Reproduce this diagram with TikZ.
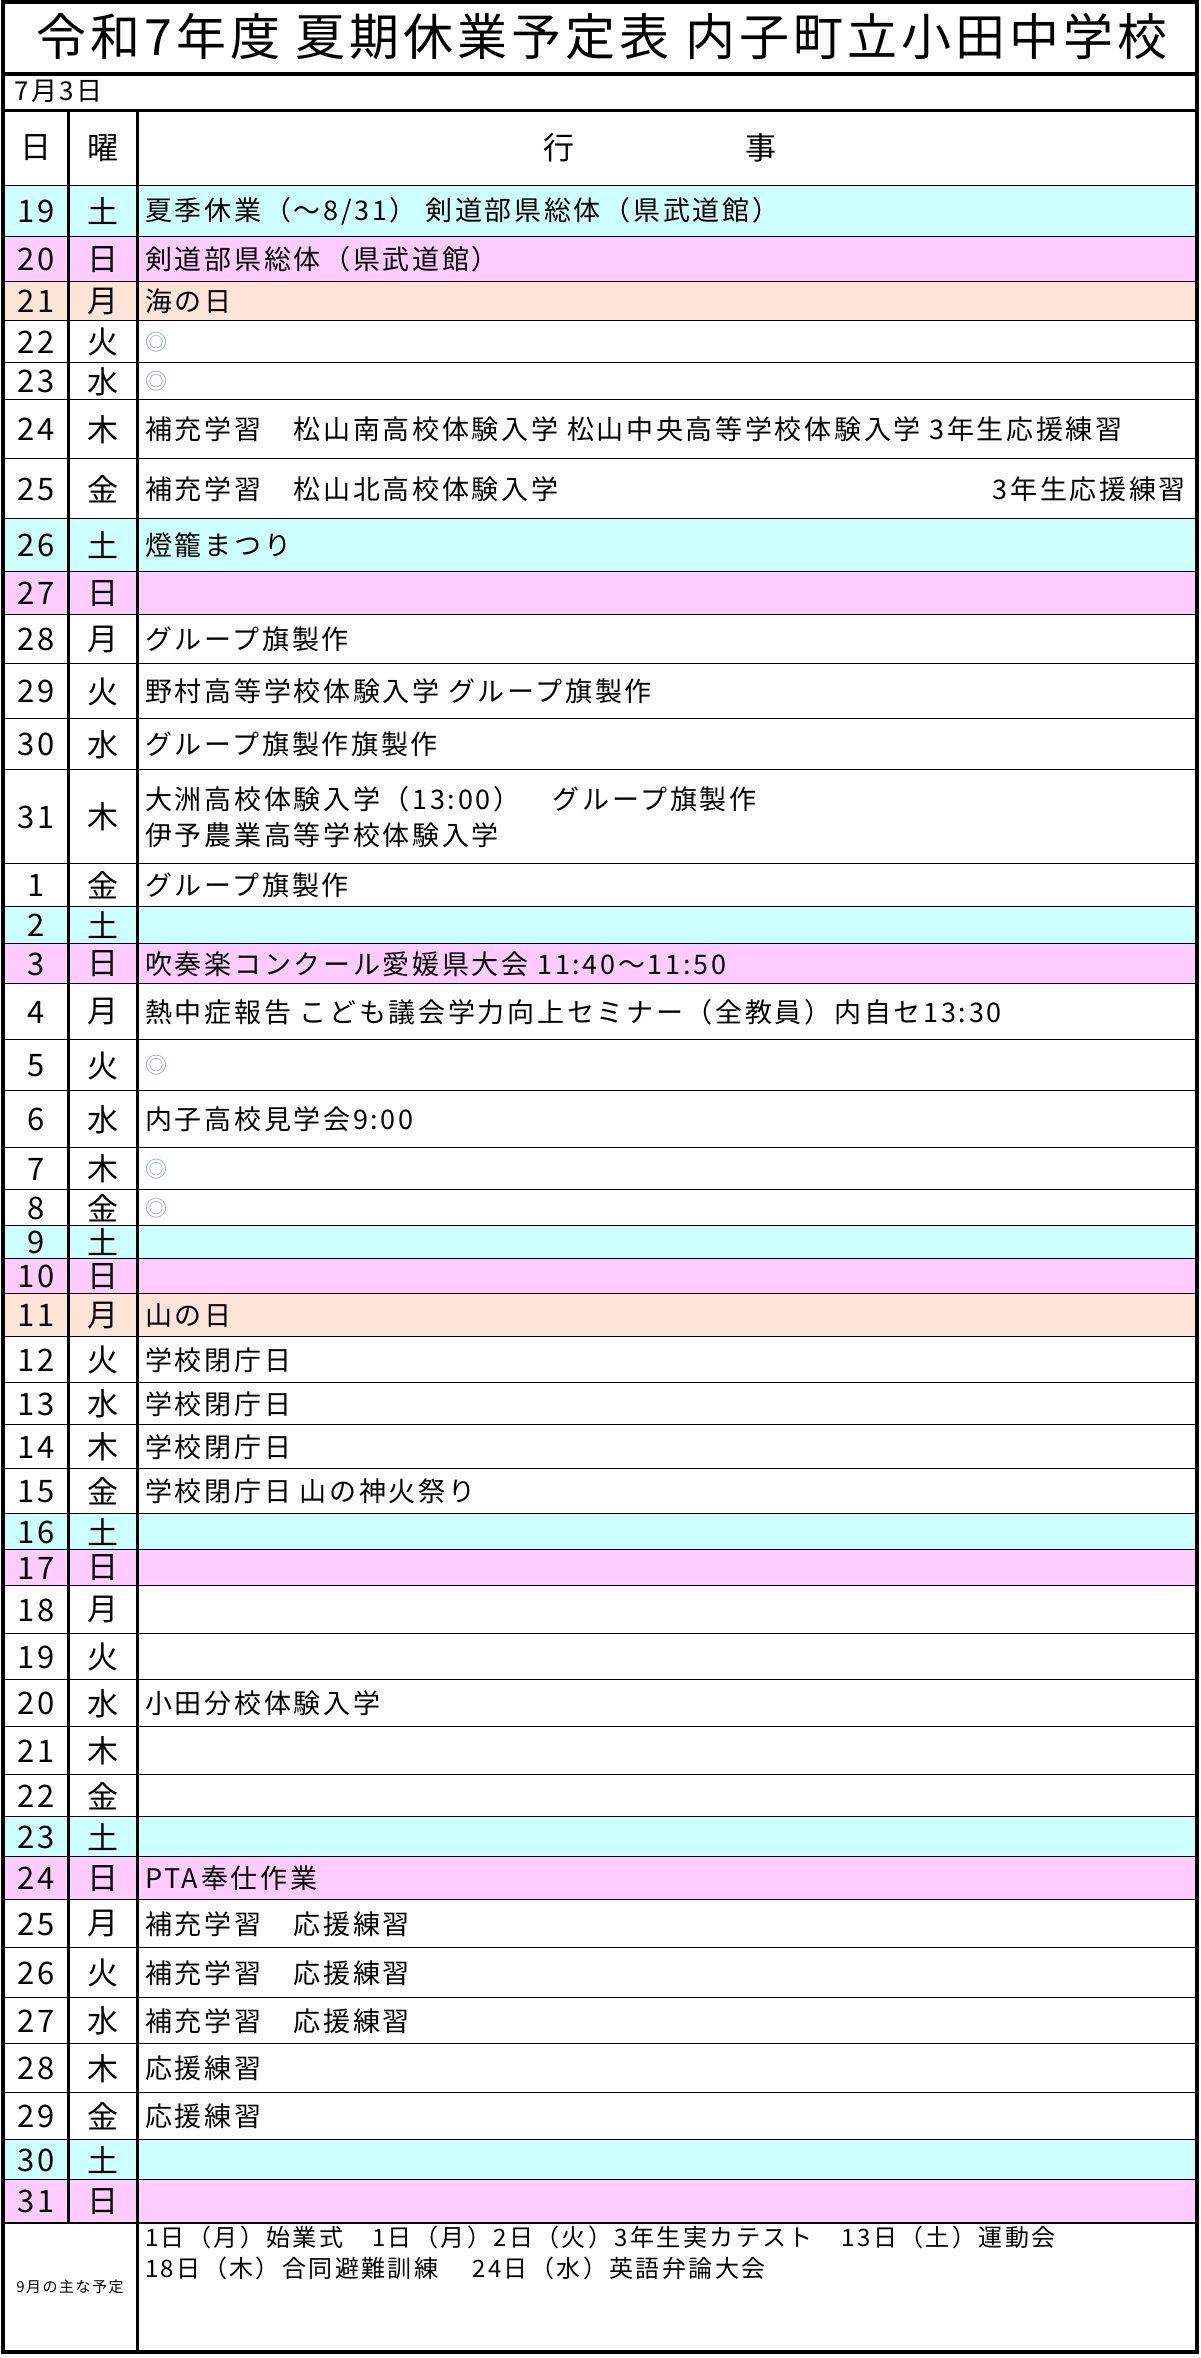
\documentclass[tikz,border=0pt]{standalone}
\usepackage{fontspec}
\setmainfont{Noto Sans CJK JP}[LetterSpace=10]
\newfontfamily\jpt{Noto Sans CJK JP}[LetterSpace=8]
\definecolor{sat}{HTML}{CCFFFF}
\definecolor{sun}{HTML}{FFCCFF}
\definecolor{hol}{HTML}{FCE4D6}
\definecolor{ring}{HTML}{9AA8C8}
\tikzset{grid/.style={line width=2.5pt,black},
 num/.style={font=\fontsize{31}{31}\selectfont,inner sep=0pt},
 txt/.style={font=\fontsize{27}{36}\selectfont,anchor=west,inner sep=0pt,align=left}}
\newcommand\calrow[6]{%
 \fill[#5] (3,#1) rectangle (1197,#2);
 \draw[grid] (3,#2) -- (1197,#2);
 \node[num] (d#1) at (36,{(#1+#2)/2}) {#3};
 \node[num] (w#1) at (103,{(#1+#2)/2}) {#4};
 \node[txt] (t#1) at (145,{(#1+#2)/2}) {#6};}
\newcommand\ring{{\color{ring}\fontsize{22}{22}\selectfont ◎}}
\begin{document}
\begin{tikzpicture}[x=1pt,y=-1pt]
\useasboundingbox (0,0) rectangle (1200,2358);
\fill[white] (0,0) rectangle (1200,2358);
\node[font=\jpt\fontsize{50}{54}\selectfont,inner sep=0pt] (title) at (602,37) {令和7年度 夏期休業予定表 内子町立小田中学校};
\draw[line width=4pt] (3,74) -- (1197,74);
\node[font=\fontsize{26}{26}\selectfont,anchor=west,inner sep=0pt] (date) at (14,91) {7月3日};
\draw[line width=3pt] (3,110) -- (1197,110);
\node[num] (hd) at (36,148) {日};
\node[num] (hw) at (103,148) {曜};
\node[num] (hg) at (660,148) {行\hspace{5.5em}事};
\draw[grid] (3,186) -- (1197,186);
\calrow{186}{237}{19}{土}{sat}{夏季休業（～8/31） 剣道部県総体（県武道館）}
\calrow{237}{282}{20}{日}{sun}{剣道部県総体（県武道館）}
\calrow{282}{321}{21}{月}{hol}{海の日}
\calrow{321}{363}{22}{火}{white}{\ring}
\calrow{363}{400}{23}{水}{white}{\ring}
\calrow{400}{459}{24}{木}{white}{補充学習　松山南高校体験入学 松山中央高等学校体験入学 3年生応援練習}
\calrow{459}{519}{25}{金}{white}{補充学習　松山北高校体験入学}
\node[txt,anchor=east] (t25b) at (1186,489) {3年生応援練習};
\calrow{519}{572}{26}{土}{sat}{燈籠まつり}
\calrow{572}{615}{27}{日}{sun}{}
\calrow{615}{664}{28}{月}{white}{グループ旗製作}
\calrow{664}{719}{29}{火}{white}{野村高等学校体験入学 グループ旗製作}
\calrow{719}{770}{30}{水}{white}{グループ旗製作旗製作}
\calrow{770}{864}{31}{木}{white}{大洲高校体験入学（13:00）\hspace{1.2em}グループ旗製作\\伊予農業高等学校体験入学}
\calrow{864}{907}{1}{金}{white}{グループ旗製作}
\calrow{907}{944}{2}{土}{sat}{}
\calrow{944}{984}{3}{日}{sun}{吹奏楽コンクール愛媛県大会 11:40～11:50}
\calrow{984}{1040}{4}{月}{white}{熱中症報告 こども議会学力向上セミナー（全教員）内自セ13:30}
\calrow{1040}{1091}{5}{火}{white}{\ring}
\calrow{1091}{1148}{6}{水}{white}{内子高校見学会9:00}
\calrow{1148}{1190}{7}{木}{white}{\ring}
\calrow{1190}{1226}{8}{金}{white}{\ring}
\calrow{1226}{1259}{9}{土}{sat}{}
\calrow{1259}{1294}{10}{日}{sun}{}
\calrow{1294}{1337}{11}{月}{hol}{山の日}
\calrow{1337}{1383}{12}{火}{white}{学校閉庁日}
\calrow{1383}{1425}{13}{水}{white}{学校閉庁日}
\calrow{1425}{1469}{14}{木}{white}{学校閉庁日}
\calrow{1469}{1514}{15}{金}{white}{学校閉庁日 山の神火祭り}
\calrow{1514}{1550}{16}{土}{sat}{}
\calrow{1550}{1586}{17}{日}{sun}{}
\calrow{1586}{1634}{18}{月}{white}{}
\calrow{1634}{1680}{19}{火}{white}{}
\calrow{1680}{1727}{20}{水}{white}{小田分校体験入学}
\calrow{1727}{1775}{21}{木}{white}{}
\calrow{1775}{1817}{22}{金}{white}{}
\calrow{1817}{1857}{23}{土}{sat}{}
\calrow{1857}{1900}{24}{日}{sun}{PTA奉仕作業}
\calrow{1900}{1948}{25}{月}{white}{補充学習　応援練習}
\calrow{1948}{1998}{26}{火}{white}{補充学習　応援練習}
\calrow{1998}{2044}{27}{水}{white}{補充学習　応援練習}
\calrow{2044}{2093}{28}{木}{white}{応援練習}
\calrow{2093}{2140}{29}{金}{white}{応援練習}
\calrow{2140}{2180}{30}{土}{sat}{}
\calrow{2180}{2223}{31}{日}{sun}{}
\node[font=\fontsize{15}{15}\selectfont,inner sep=0pt] (sep) at (70,2287) {9月の主な予定};
\node[txt,anchor=north west,font=\fontsize{24}{31}\selectfont] (ftxt) at (145,2226) {1日（月）始業式　1日（月）2日（火）3年生実カテスト　13日（土）運動会\\18日（木）合同避難訓練　 24日（水）英語弁論大会};
\draw[line width=3pt] (68,110) -- (68,2223);
\draw[line width=3pt] (137,110) -- (137,2352);
\draw[line width=4pt] (3,2) rectangle (1197,2352);
\end{tikzpicture}
\end{document}
